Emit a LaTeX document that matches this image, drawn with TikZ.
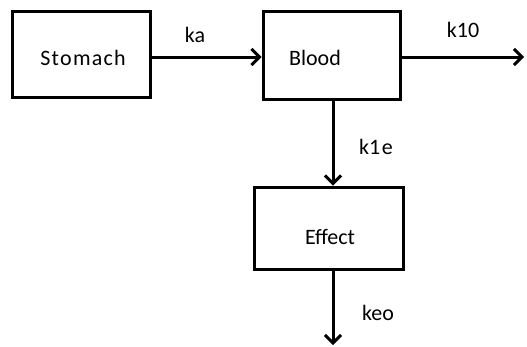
\documentclass[tikz,border=0pt]{standalone}
\usepackage{fontspec}
\setmainfont{Carlito}
\usetikzlibrary{arrows.meta}
\begin{document}
\begin{tikzpicture}[x=1pt,y=-1pt,
  box/.style={draw,line width=3pt,inner sep=0pt},
  lab/.style={inner sep=0pt,font=\fontsize{22}{26}\selectfont},
  flow/.style={line width=3pt,-{Straight Barb[length=8pt,width=16pt,line width=3pt]}}]
\useasboundingbox (0,0) rectangle (527,346);
\node[box,minimum width=138pt,minimum height=86pt] (stomach) at (81,54) {};
\node[box,minimum width=137pt,minimum height=88pt] (blood) at (331.5,55) {};
\node[box,minimum width=149pt,minimum height=82pt] (effect) at (328.5,228) {};
\node[lab] (tstomach) at (83,58) {S\kern1.2pt t\kern1.2pt o\kern1.2pt m\kern1.2pt a\kern1.2pt c\kern1.2pt h};
\node[lab] (tblood) at (315,58) {Blood};
\node[lab] (teffect) at (330,237) {Effect};
\coordinate (out1) at (524,57);
\coordinate (out2) at (333,345);
\draw[flow] (stomach.east |- 0,57) -- (blood.west |- 0,57);
\draw[flow] (blood.east |- 0,57) -- (out1);
\draw[flow] (blood.south -| 333,0) -- (effect.north -| 333,0);
\draw[flow] (effect.south -| 333,0) -- (out2);
\node[lab] (ka) at (195,35) {ka};
\node[lab] (k10) at (463,30) {k10};
\node[lab] (k1e) at (376,147) {k1\kern1.5pt e};
\node[lab] (keo) at (378,313) {keo};
\end{tikzpicture}
\end{document}
